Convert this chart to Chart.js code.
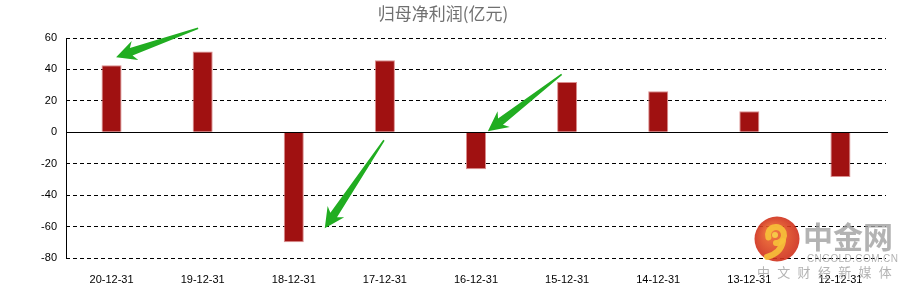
<!DOCTYPE html>
<html>
<head>
<meta charset="utf-8">
<script src="https://cdn.jsdelivr.net/npm/chart.js@4/dist/chart.umd.min.js"></script>
<style>
html,body{margin:0;padding:0;background:#fff;}
#wrap{width:911px;height:289px;}
</style>
</head>
<body>
<div id="wrap"><canvas id="c" width="911" height="289"></canvas></div>
<script>
// ---- data ----
const categories = ['20-12-31','19-12-31','18-12-31','17-12-31','16-12-31','15-12-31','14-12-31','13-12-31','12-12-31'];
const netProfit = [42.7, 51.4, -69.9, 45.9, -23.6, 32.0, 26.1, 13.4, -28.5];
const yTicks = [-80, -60, -40, -20, 0, 20, 40, 60];
const titleText = '归母净利润(亿元)';
// annotation arrows: [tailCategoryPos, tailValue, tipCategoryPos, tipValue]
const arrowTails = [[0.95, 66.2], [2.99, -5.1], [4.94, 36.9]];
const arrowTips  = [[0.05, 47.8], [2.34, -61.1], [4.13, 0.6]];

function drawArrow(ctx, tx, ty, px, py) {
  const dx = px - tx, dy = py - ty;
  const len = Math.hypot(dx, dy);
  const ux = dx / len, uy = dy / len;
  const nx = -uy, ny = ux;
  const L = 16, hw = 10, sw = 4, tw = 0.8;
  const bx = px - ux * L, by = py - uy * L;
  const cx = px - ux * (L + 4), cy = py - uy * (L + 4);
  ctx.beginPath();
  ctx.moveTo(tx + nx * tw, ty + ny * tw);
  ctx.lineTo(bx + nx * sw, by + ny * sw);
  ctx.lineTo(cx + nx * hw, cy + ny * hw);
  ctx.lineTo(px, py);
  ctx.lineTo(cx - nx * hw, cy - ny * hw);
  ctx.lineTo(bx - nx * sw, by - ny * sw);
  ctx.lineTo(tx - nx * tw, ty - ny * tw);
  ctx.closePath();
  ctx.fill();
}

const decorPlugin = {
  id: 'decor',
  afterDatasetsDraw(chart) {
    const ctx = chart.ctx;
    const y = chart.scales.y;
    const area = chart.chartArea;
    // zero line
    const y0 = Math.round(y.getPixelForValue(0)) + 0.5;
    ctx.save();
    ctx.strokeStyle = '#000';
    ctx.lineWidth = 1;
    ctx.setLineDash([]);
    ctx.beginPath();
    ctx.moveTo(area.left, y0);
    ctx.lineTo(area.right + 2, y0);
    ctx.stroke();
    // y axis line
    const xa = Math.round(area.left) + 0.5;
    ctx.beginPath();
    ctx.moveTo(xa, area.top);
    ctx.lineTo(xa, area.bottom);
    ctx.stroke();
    ctx.restore();
  },
  afterDraw(chart) {
    const ctx = chart.ctx;
    const x = chart.scales.x, y = chart.scales.y;
    const step = x.getPixelForValue(1) - x.getPixelForValue(0);
    const x0 = x.getPixelForValue(0);
    ctx.save();
    // watermark
    ctx.globalAlpha = 0.9;
    const cx = 777, cy = 239, r = 22.5;
    const g = ctx.createRadialGradient(cx - 6, cy - 8, 3, cx, cy, r);
    g.addColorStop(0, '#f06a2a');
    g.addColorStop(1, '#cf2f1b');
    ctx.fillStyle = g;
    ctx.beginPath(); ctx.arc(cx, cy, r, 0, Math.PI * 2); ctx.fill();
    ctx.strokeStyle = '#f7c23a';
    ctx.lineWidth = 6;
    ctx.lineCap = 'round';
    ctx.beginPath(); ctx.arc(cx - 1, cy - 4, 8, Math.PI * 0.9, Math.PI * 2.5); ctx.stroke();
    ctx.beginPath(); ctx.moveTo(cx + 6, cy + 2); ctx.quadraticCurveTo(cx + 4, cy + 14, cx - 10, cy + 18); ctx.stroke();
    ctx.fillStyle = '#f7d24a';
    ctx.beginPath(); ctx.arc(cx - 2, cy - 4, 3, 0, Math.PI * 2); ctx.fill();
    ctx.globalAlpha = 0.8;
    ctx.fillStyle = '#a0a0a0';
    ctx.textBaseline = 'alphabetic';
    ctx.textAlign = 'left';
    ctx.font = 'bold 30px "Noto Sans CJK SC"';
    ctx.fillText('中金网', 803, 248);
    ctx.font = '10px "Liberation Sans"';
    const s1 = 'CNGOLD.COM.CN';
    let xx = 807;
    for (const ch of s1) { ctx.fillText(ch, xx, 262); xx += ctx.measureText(ch).width + 0.4; }
    ctx.font = '13px "Noto Sans CJK SC"';
    const s2 = '中文财经新媒体';
    let i = 0;
    for (const ch of s2) { ctx.fillText(ch, 757 + i * 20.3, 277); i++; }
    ctx.restore();
    // arrows
    ctx.save();
    ctx.fillStyle = '#21ad21';
    for (let k = 0; k < arrowTails.length; k++) {
      const t = arrowTails[k], p = arrowTips[k];
      drawArrow(ctx,
        x0 + t[0] * step, y.getPixelForValue(t[1]),
        x0 + p[0] * step, y.getPixelForValue(p[1]));
    }
    ctx.restore();
  }
};

new Chart(document.getElementById('c'), {
  type: 'bar',
  data: {
    labels: categories,
    datasets: [{
      data: netProfit,
      backgroundColor: '#a01111',
      borderColor: 'rgba(215,130,130,0.9)',
      borderWidth: 1,
      borderSkipped: 'start',
      categoryPercentage: 1,
      barPercentage: 0.22
    }]
  },
  options: {
    responsive: false,
    animation: false,
    devicePixelRatio: 1,
    layout: { padding: { left: 0, right: 25, top: 0, bottom: 0 } },
    plugins: {
      legend: { display: false },
      tooltip: { enabled: false },
      title: {
        display: true,
        text: titleText,
        color: '#707070',
        font: { family: '"Noto Sans CJK SC"', size: 17, weight: 'normal' },
        padding: { top: 3, bottom: 14.6 }
      }
    },
    scales: {
      x: {
        grid: { display: false },
        border: { display: false },
        ticks: {
          color: '#000',
          font: { family: '"Liberation Sans"', size: 11 },
          padding: 7,
          maxRotation: 0,
          autoSkip: false
        },
        afterFit(s) { s.height = 31; }
      },
      y: {
        min: -80,
        max: 60,
        afterBuildTicks(s) { s.ticks = yTicks.map(v => ({ value: v })); },
        grid: {
          color: c => (c.tick && c.tick.value === 0) ? 'rgba(0,0,0,0)' : '#000',
          lineWidth: 1,
          drawTicks: false
        },
        border: { display: false, dash: [4, 3] },
        ticks: {
          color: '#000',
          font: { family: '"Liberation Sans"', size: 11 },
          padding: 9
        },
        afterFit(s) { s.width = 66; }
      }
    }
  },
  plugins: [decorPlugin]
});
</script>
</body>
</html>
